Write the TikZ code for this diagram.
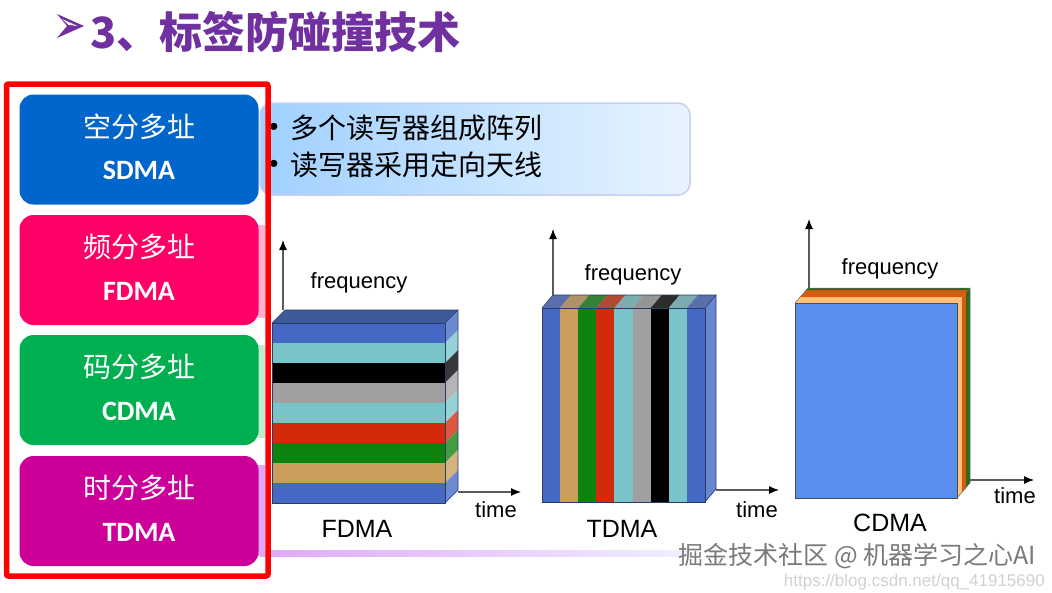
\documentclass[tikz,border=0pt]{standalone}
\usepackage{fontspec}
\usetikzlibrary{arrows.meta,calc}
\newfontfamily\zh{Noto Sans CJK SC}
\newfontfamily\calf{Carlito}
\newfontfamily\arf{Liberation Sans}
\definecolor{ttl}{HTML}{7030A0}
\definecolor{sdc}{HTML}{0066CC}
\definecolor{fdc}{HTML}{FF0066}
\definecolor{cdc}{HTML}{00B050}
\definecolor{tdc}{HTML}{CC0099}
\definecolor{cb}{HTML}{4468C4}
\definecolor{cc}{HTML}{78C4C8}
\definecolor{cg}{HTML}{A0A0A0}
\definecolor{cr}{HTML}{D22A0A}
\definecolor{cgr}{HTML}{0E820E}
\definecolor{ct}{HTML}{C89E5A}
\definecolor{topf}{HTML}{3D5A9A}
\definecolor{cdb}{HTML}{5B8DEF}
\definecolor{peach}{HTML}{FFC27A}
\definecolor{orng}{HTML}{D85A10}
\definecolor{dgrn}{HTML}{2E6B1E}
\definecolor{edgec}{HTML}{2A3A6A}
\definecolor{axc}{HTML}{5A5A5A}
\definecolor{wm}{HTML}{7A7A7A}
\definecolor{lav}{HTML}{E0A8F8}
\tikzset{
  cbox/.style={rounded corners=14pt, minimum width=239pt, minimum height=110pt, inner sep=0pt},
  zhlab/.style={text=white, font=\zh\fontsize{28}{30}\selectfont},
  enlab/.style={text=white, font=\calf\bfseries\fontsize{28}{30}\selectfont},
  bul/.style={text=black, font=\zh\fontsize{28}{30}\selectfont, anchor=west, inner sep=0pt},
  bdot/.style={text=black, font=\arf\fontsize{26}{28}\selectfont, anchor=center, inner sep=0pt},
  edge/.style={draw=edgec, line width=0.6pt},
  axis/.style={draw=axc, line width=1.2pt, -{Latex[length=10pt,width=8pt,color=black]}},
  axlab/.style={font=\arf\fontsize{22}{24}\selectfont, anchor=base, inner sep=0pt},
  dlab/.style={font=\arf\fontsize{25}{27}\selectfont, anchor=base, inner sep=0pt},
}
\begin{document}
\begin{tikzpicture}[x=1pt,y=-1pt]
\useasboundingbox (0,0) rectangle (1052,592);
\fill[white] (0,0) rectangle (1052,592);

% title
\fill[ttl] (57,14) -- (84,26) -- (57,38) -- (67,26) -- cycle;
\fill[white] (62,19) -- (77.5,26) -- (68.5,24.8) -- cycle;
\node[anchor=west, inner sep=0pt, text=ttl, font=\zh\bfseries\fontsize{43}{45}\selectfont] (title) at (90,32) {3、标签防碰撞技术};

% faint strips behind the boxes
\fill[fdc!30!white] (258,225) rectangle (265,318);
\fill[cdc!25!white] (258,345) rectangle (265,438);
\fill[lav] (258,465) rectangle (265,556);
\shade[left color=lav, right color=blue!6!white] (260,550) rectangle (690,556);

% text box
\node[draw={rgb,255:red,200;green,206;blue,238}, line width=1.5pt, rounded corners=12pt,
  left color={rgb,255:red,160;green,208;blue,255}, right color={rgb,255:red,232;green,244;blue,255},
  minimum width=430pt, minimum height=92pt, inner sep=0pt] (tb) at (475,149) {};
\node[bdot] (b1) at (274,129) {•};
\node[bul] (t1) at (290,128) {多个读写器组成阵列};
\node[bdot] (b2) at (274,166) {•};
\node[bul] (t2) at (290,165) {读写器采用定向天线};

% coloured boxes
\node[cbox, fill=sdc] (sd) at (139,149.5) {};
\node[zhlab] (sdz) at ($(sd.center)+(0,-23)$) {空分多址};
\node[enlab] (sde) at ($(sd.center)+(0,21)$) {SDMA};
\node[cbox, fill=fdc] (fd) at (139,270) {};
\node[zhlab] (fdz) at ($(fd.center)+(0,-23)$) {频分多址};
\node[enlab] (fde) at ($(fd.center)+(0,21)$) {FDMA};
\node[cbox, fill=cdc] (cd) at (139,390) {};
\node[zhlab] (cdz) at ($(cd.center)+(0,-23)$) {码分多址};
\node[enlab] (cde) at ($(cd.center)+(0,21)$) {CDMA};
\node[cbox, fill=tdc] (td) at (139,511) {};
\node[zhlab] (tdz) at ($(td.center)+(0,-23)$) {时分多址};
\node[enlab] (tde) at ($(td.center)+(0,21)$) {TDMA};

% red frame
\draw[red, line width=5.5pt, rounded corners=2pt] (6.5,84) rectangle (268,576);

% ---------- FDMA block
\foreach \c [count=\i from 0] in {cb,cc,black,cg,cc,cr,cgr,ct,cb} {
  \fill[\c] (272,323+20*\i) rectangle (445,343+20*\i);
  \fill[\c!78!white] (445,323+20*\i) -- (458,310+20*\i) -- (458,330+20*\i) -- (445,343+20*\i) -- cycle;
}
\fill[topf] (272,323) -- (285,310) -- (458,310) -- (445,323) -- cycle;
\draw[edge] (272,323) rectangle (445,503);
\draw[edge] (272,323) -- (285,310) -- (458,310) -- (445,323);
\draw[edge] (458,310) -- (458,490) -- (445,503);
\coordinate (fo) at (283,310);
\coordinate (ft) at (283,240);
\coordinate (fh) at (458,492);
\coordinate (fr) at (521,492);
\draw[axis] (fo) -- (ft);
\draw[axis] (fh) -- (fr);
\node[axlab] (ffq) at (359,288) {frequency};
\node[axlab] (ftm) at (496,517) {time};
\node[dlab] (fnm) at (357,537) {FDMA};

% ---------- TDMA block
\foreach \c [count=\i from 0] in {cb,ct,cgr,cr,cc,cg,black,cc,cb} {
  \fill[\c] (542+18.111*\i,308) rectangle (560.111+18.111*\i,502);
  \fill[\c!65!gray] (542+18.111*\i,308) -- (553+18.111*\i,295) -- (571.111+18.111*\i,295) -- (560.111+18.111*\i,308) -- cycle;
}
\fill[cb!80!white] (705,308) -- (716,295) -- (716,489) -- (705,502) -- cycle;
\draw[edge] (542,308) rectangle (705,502);
\draw[edge] (542,308) -- (553,295) -- (716,295) -- (705,308);
\draw[edge] (716,295) -- (716,489) -- (705,502);
\coordinate (to) at (553,295);
\coordinate (tt) at (553,229);
\coordinate (th) at (716,490);
\coordinate (tr) at (779,490);
\draw[axis] (to) -- (tt);
\draw[axis] (th) -- (tr);
\node[axlab] (tfq) at (633,280) {frequency};
\node[axlab] (ttm) at (757,517) {time};
\node[dlab] (tnm) at (622,537) {TDMA};

% ---------- CDMA block
\fill[peach] (795,303) -- (957,303) -- (962.2,297) -- (800.2,297) -- cycle;
\fill[orng] (800.2,297) -- (962.2,297) -- (968,290.2) -- (806,290.2) -- cycle;
\fill[dgrn] (806,290.2) -- (968,290.2) -- (970,288) -- (808,288) -- cycle;
\fill[peach] (957,303) -- (962.2,297) -- (962.2,492) -- (957,498) -- cycle;
\fill[orng] (962.2,297) -- (966,292.5) -- (966,487.5) -- (962.2,492) -- cycle;
\fill[dgrn] (966,292.5) -- (970,288) -- (970,483) -- (966,487.5) -- cycle;
\fill[cdb] (795,303) rectangle (957,498);
\draw[draw=black!70, line width=0.6pt] (795,303) rectangle (957,498);
\draw[draw=black!60, line width=0.5pt] (795,303) -- (808,288) -- (970,288) -- (970,483) -- (957,498);
\coordinate (co) at (809,288);
\coordinate (ct) at (809,219);
\coordinate (ch) at (970,480);
\coordinate (cr) at (1034,480);
\draw[axis] (co) -- (ct);
\draw[axis] (ch) -- (cr);
\node[axlab] (cfq) at (890,274) {frequency};
\node[axlab] (ctm) at (1015,503) {time};
\node[dlab] (cnm) at (890,531) {CDMA};

% watermark
\node[font=\arf\fontsize{17}{19}\selectfont, text=black!18, anchor=base east, inner sep=0pt] (url) at (1045,586) {https://blog.csdn.net/qq\_41915690};
\node[font=\zh\fontsize{25}{27}\selectfont, text=wm, anchor=east, inner sep=0pt] (wmk) at (1036,556) {掘金技术社区 @ 机器学习之心AI};
\end{tikzpicture}
\end{document}
